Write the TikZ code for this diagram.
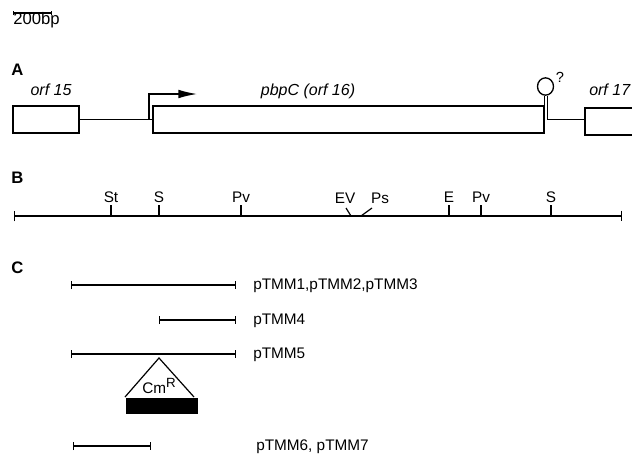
\documentclass[tikz,border=0pt]{standalone}
\usepackage{fontspec}
\setmainfont{Liberation Sans}
\usetikzlibrary{arrows.meta,positioning,calc,shapes.geometric}

\tikzset{
    line cap=butt,
    gene/.style={draw, line width=1pt},
    genebox/.style={gene, rectangle, inner sep=0pt, minimum height=20.25pt},
    genelabel/.style={font=\fontsize{12}{14}\selectfont\itshape, inner sep=0pt, anchor=base},
    panel/.style={font=\fontsize{12.5}{14}\selectfont\bfseries, inner sep=0pt, anchor=base west},
    site/.style={font=\fontsize{11.5}{13}\selectfont, inner sep=0pt},
    mapline/.style={line width=0.9pt, {Bar[width=8pt]}-{Bar[width=8pt]}},
    clone/.style={line width=0.8pt, {Bar[width=6pt]}-{Bar[width=6pt]}},
    clonelabel/.style={font=\fontsize{11.5}{13}\selectfont, inner sep=0pt, anchor=base west}
}

\begin{document}
\begin{tikzpicture}[x=0.75pt, y=-0.75pt]
\useasboundingbox (0,0) rectangle (632,454);

% scale bar
\coordinate (barL) at (13,13);
\coordinate (barR) at (52,13);
\draw[line width=0.8pt, {Bar[width=3pt]}-{Bar[width=3pt]}] (barL) -- (barR);
\node[site, font=\fontsize{12.5}{14}\selectfont, anchor=base west] (barlab) at (13,24) {200bp};

%% (A) gene organisation
\node[panel] (pA) at (11,75) {A};

\node[genebox, minimum width=49.5pt] (orf15) at (46,119.5) {};
\node[genebox, minimum width=293.25pt] (pbpC) at (348.5,119.5) {};
\draw[gene] (orf15.east) -- (pbpC.west);

% promoter
\coordinate (prom) at (149,119.5);
\coordinate (promtop) at (149,94);
\coordinate (promtip) at (197,94);
\draw[gene, -{Latex[length=14pt, width=6.5pt]}] (prom) -- (promtop) -- (promtip);

% terminator hairpin
\coordinate (stemL) at (pbpC.north east);
\coordinate (stemR) at (547.5,119.5);
\node[gene, ellipse, inner sep=0pt, minimum width=12pt, minimum height=13pt] (loop) at (545.5,86.5) {};
\draw[gene] (stemL) -- (loop.south -| stemL);
\draw[gene] (stemR) -- (loop.south -| stemR);
\node[site, font=\fontsize{11}{13}\selectfont, anchor=base] (qmark) at (560,82) {?};

% orf 17 (runs off the edge)
\coordinate (o17t) at (585,108);
\coordinate (o17b) at (585,135);
\draw[gene] (632,108) -- (o17t) -- (o17b) -- (632,135);
\draw[gene] (stemR) -- (stemR -| o17t);

\node[genelabel] (l15) at (51,95) {orf 15};
\node[genelabel] (l16) at (308,95) {pbpC (orf 16)};
\node[genelabel, anchor=base west] (l17) at (589,95) {orf 17};

%% (B) restriction map
\node[panel] (pB) at (11,183) {B};
\coordinate (mapL) at (14,216);
\coordinate (mapR) at (622,216);
\draw[mapline] (mapL) -- (mapR);

\foreach \x/\lab [count=\i] in {111/St, 159/S, 241/Pv, 449/E, 481/Pv, 551/S} {
    \coordinate (tick\i) at (\x,216);
    \draw[line width=0.9pt] (tick\i) -- ++(0,-11) node[site, above=1.5pt] (site\i) {\lab};
}
% EcoRV and PstI sites drawn slanted
\coordinate (evB) at (351,216);
\coordinate (psB) at (361,216);
\draw[line width=0.9pt] (evB) -- (346,208);
\draw[line width=0.9pt] (psB) -- (372,208);
\node[site, anchor=base] (siteEV) at (345,203) {EV};
\node[site, anchor=base] (sitePs) at (380,203) {Ps};

%% (C) subclones
\node[panel] (pC) at (11,273) {C};

\foreach \n/\xa/\xb/\y/\xt/\lab in {1/71/236/285/253/{pTMM1,pTMM2,pTMM3},
                                    4/159/236/320/253/{pTMM4},
                                    5/71/236/354/253/{pTMM5},
                                    6/73/151/446/256/{pTMM6, pTMM7}} {
    \coordinate (c\n L) at (\xa,\y);
    \coordinate (c\n R) at (\xb,\y);
    \draw[clone] (c\n L) -- (c\n R);
    \node[clonelabel] (c\n lab) at (\xt,\y+4.5) {\lab};
}

% CmR cassette inserted in pTMM5
\coordinate (cmTop) at (159,358);
\coordinate (cmL) at (125,397);
\coordinate (cmR) at (194,397);
\draw[line width=0.9pt, line join=miter] (cmL) -- (cmTop) -- (cmR);
\fill[black] (126,398) rectangle (198,414);
\node[site, anchor=base] (cmlab) at (159,393) {Cm\raisebox{4pt}{\fontsize{10}{12}\selectfont R}};

\end{tikzpicture}
\end{document}
